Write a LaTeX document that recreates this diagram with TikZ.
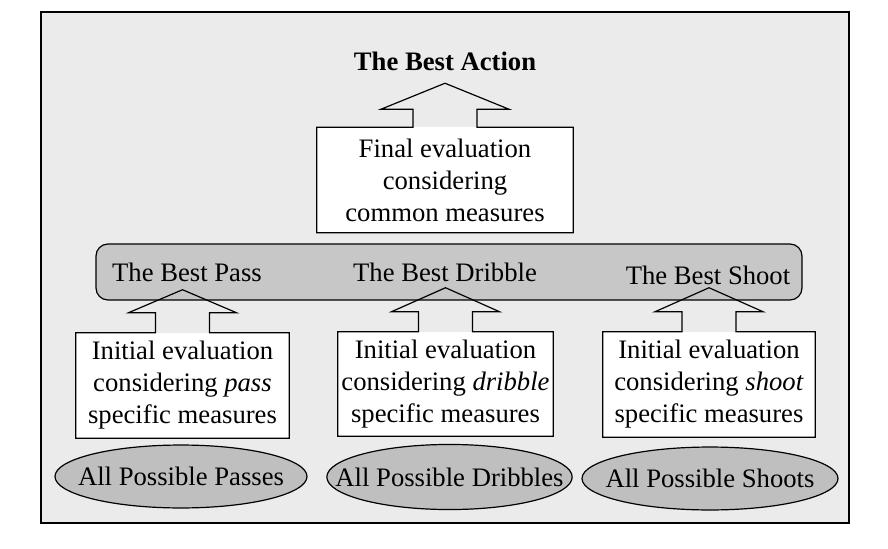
\documentclass[tikz,border=0pt]{standalone}
\usepackage{fontspec}
\setmainfont{Liberation Serif}
\usetikzlibrary{calc}

% outline of an evaluation box with its block arrow on top
\newcommand\uparrowbox[5]{%
  \draw[outline] (#1.south west) -- (#1.north west)
    -- ($(#1.north)+(-#2,0)$) -- ($(#1.north)+(-#2,-#4)$)
    -- ($(#1.north)+(-#3,-#4)$) -- ($(#1.north)+(0,-#5)$)
    -- ($(#1.north)+(#3,-#4)$) -- ($(#1.north)+(#2,-#4)$)
    -- ($(#1.north)+(#2,0)$) -- (#1.north east) -- (#1.south east) -- cycle;}

\begin{document}
\begin{tikzpicture}[x=0.75pt,y=-0.75pt,
    font=\fontsize{20}{24}\selectfont,
    outline/.style={line width=0.9pt},
    evalbox/.style={rectangle, fill=white, align=center, inner sep=0pt},
    choice/.style={outline, fill=black!25}]
  \useasboundingbox (0,0) rectangle (888,549);
  % frame
  \draw[outline, fill=black!8] (41,12) rectangle (849,523);
  % result of each category
  \draw[outline, fill=black!22, rounded corners=9pt] (96,244) rectangle (802,300);
  \node (pass) at (187,272) {The Best Pass};
  \node (dribble) at (445,272) {The Best Dribble};
  \node (shoot) at (708,275) {The Best Shoot};
  % final stage
  \node (action) at (445,61) {\bfseries The Best Action};
  \node (final) [evalbox, minimum width=256*0.75pt, minimum height=105*0.75pt] at (445,180)
    {Final evaluation\\considering\\common measures};
  \uparrowbox{final}{32}{64}{18}{44}
  % initial stage
  \node (evpass) [evalbox, minimum width=213*0.75pt, minimum height=105*0.75pt] at (182.5,385.5)
    {Initial evaluation\\considering \emph{pass}\\specific measures};
  \node (evdribble) [evalbox, minimum width=215*0.75pt, minimum height=104*0.75pt] at (445.5,384)
    {Initial evaluation\\considering \emph{dribble}\\specific measures};
  \node (evshoot) [evalbox, minimum width=212*0.75pt, minimum height=105*0.75pt] at (709,384.5)
    {Initial evaluation\\considering \emph{shoot}\\specific measures};
  \uparrowbox{evpass}{27}{54}{20}{43}
  \uparrowbox{evdribble}{27}{54}{20}{44}
  \uparrowbox{evshoot}{27}{54}{20}{44}
  % candidates
  \draw[choice] (181,476.5) ellipse [x radius=94.5pt, y radius=23.6pt];
  \draw[choice] (449.5,477) ellipse [x radius=92pt, y radius=24.4pt];
  \draw[choice] (710,478.5) ellipse [x radius=96pt, y radius=23.6pt];
  \node (allpass) at (181,476.5) {All Possible Passes};
  \node (alldribble) at (449.5,477) {All Possible Dribbles};
  \node (allshoot) at (710,478.5) {All Possible Shoots};
\end{tikzpicture}
\end{document}
